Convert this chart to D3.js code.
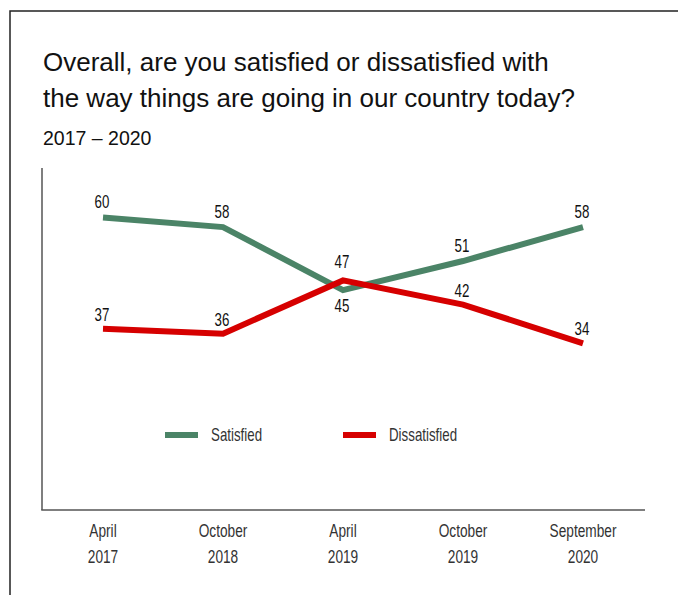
<!DOCTYPE html>
<html>
<head>
<meta charset="utf-8">
<script src="https://cdn.jsdelivr.net/npm/d3@7/dist/d3.min.js"></script>
<style>
  html, body { margin: 0; padding: 0; background: #fff; overflow: hidden; }
  svg { display: block; }
</style>
</head>
<body>
<script>
// ---- data ----
const categories = ["April\n2017", "October\n2018", "April\n2019", "October\n2019", "September\n2020"];
const satisfied = [60, 58, 45, 51, 58];
const dissatisfied = [37, 36, 47, 42, 34];
const seriesNames = ["Satisfied", "Dissatisfied"];
const seriesColors = ["#4b8467", "#d60000"];
const titleLines = ["Overall, are you satisfied or dissatisfied with", "the way things are going in our country today?"];
const subtitle = "2017 \u2013 2020";

// ---- setup ----
const W = 678, H = 595;
const svg = d3.select("body").append("svg").attr("width", W).attr("height", H);
const regular = "'Liberation Sans', Arial, sans-serif";
const SX = 0.74; // horizontal squeeze to imitate a condensed face

function condText(parent, tx, ty, str, opts) {
  opts = opts || {};
  return parent.append("text")
    .attr("transform", `translate(${tx},${ty}) scale(${SX},1)`)
    .attr("text-anchor", opts.anchor || "start")
    .attr("font-family", regular)
    .attr("font-size", opts.size || 18)
    .attr("fill", opts.fill || "#111")
    .text(str);
}

// frame (top and left edges visible)
svg.append("rect").attr("x", 10).attr("y", 11).attr("width", 800).attr("height", 800)
  .attr("fill", "none").attr("stroke", "#222").attr("stroke-width", 1.5);

// title
svg.append("g").selectAll("text").data(titleLines).join("text")
  .attr("x", 43).attr("y", (d, i) => 71 + i * 35.5)
  .attr("font-family", regular).attr("font-size", 26).attr("fill", "#111")
  .text(d => d);
svg.append("text").attr("x", 43).attr("y", 145)
  .attr("font-family", regular).attr("font-size", 19.5).attr("fill", "#111")
  .text(subtitle);

// scales
const x = d3.scalePoint().domain(categories).range([43, 643]).padding(0.5);
const y = d3.scaleLinear().domain([0, 70]).range([508, 169]);

// axes lines
svg.append("line").attr("x1", 42).attr("x2", 42).attr("y1", 168).attr("y2", 510)
  .attr("stroke", "#555").attr("stroke-width", 1.5);
svg.append("line").attr("x1", 41.25).attr("x2", 645).attr("y1", 510).attr("y2", 510)
  .attr("stroke", "#555").attr("stroke-width", 1.5);

// x tick labels
const tickG = svg.append("g");
categories.forEach(c => {
  c.split("\n").forEach((p, i) => {
    condText(tickG, x(c), 537 + i * 26, p, { anchor: "middle", size: 18.5, fill: "#333" });
  });
});

// lines
const series = [satisfied, dissatisfied];
const line = d3.line().x((v, i) => x(categories[i])).y(v => y(v));
series.forEach((vals, s) => {
  svg.append("path").datum(vals).attr("d", line)
    .attr("fill", "none").attr("stroke", seriesColors[s])
    .attr("stroke-width", 6).attr("stroke-linejoin", "miter");
});

// data labels
const labG = svg.append("g");
satisfied.forEach((v, i) => {
  const below = v < dissatisfied[i];
  condText(labG, x(categories[i]) - 1, below ? y(v) + 22 : y(v) - 9, v, { anchor: "middle", size: 18 });
});
dissatisfied.forEach((v, i) => {
  const up = v > satisfied[i] ? 12 : 8;
  condText(labG, x(categories[i]) - 1, y(v) - up, v, { anchor: "middle", size: 18 });
});

// legend
const legX = [165, 343];
seriesNames.forEach((n, s) => {
  svg.append("line").attr("x1", legX[s]).attr("x2", legX[s] + 33).attr("y1", 435).attr("y2", 435)
    .attr("stroke", seriesColors[s]).attr("stroke-width", 6);
  condText(svg, legX[s] + 46, 441, n, { size: 18, fill: "#333" });
});
</script>
</body>
</html>
